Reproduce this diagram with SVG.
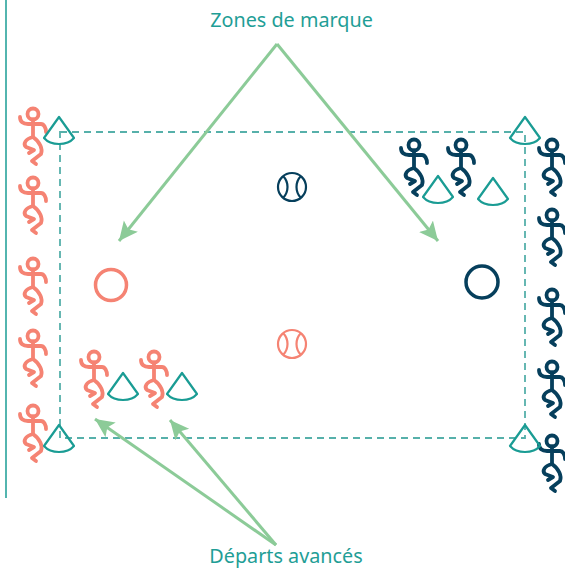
<svg xmlns="http://www.w3.org/2000/svg" xmlns:xlink="http://www.w3.org/1999/xlink" width="565" height="569" viewBox="0 0 565 569">
<style>
text{font-family:"Noto Sans","Open Sans",sans-serif;font-size:19.800px;fill:#1f9e96;text-anchor:middle}
.fig{fill:none;stroke-width:3.800;stroke-linecap:round;stroke-linejoin:round}
.red{stroke:#f58373}
.dark{stroke:#063f5c}
.cone{fill:none;stroke:#1a9c94;stroke-width:2.200;stroke-linejoin:round}
.ball{fill:none;stroke-width:2.200}
.arrow{fill:none;stroke:#8ccb98;stroke-width:3}
</style>
<defs>
<g id="man">
<circle cx="0" cy="0" r="5.500"/>
<path d="M-13,3C-13,8-10,10-5,10H8C11,10 13,14 13,18"/>
<path d="M0,5.500V23C-8,25-10,30-7,33L1,36L-4,39"/>
<path d="M0,23C7,28 10,35 8,40L-1,47L3,50"/>
</g>
<path id="cn" d="M0,0L15,21C8,29-8,29-15,21Z"/>
<g id="bl">
<circle cx="0" cy="0" r="14"/>
<path d="M-9,-11C-3,-5-3,5-9,11M9,-11C3,-5 3,5 9,11"/>
</g>
<marker id="ah" markerUnits="userSpaceOnUse" markerWidth="24" markerHeight="20" refX="19" refY="9" orient="auto"><path d="M0,0L19,9L0,18L4,9Z" fill="#8ccb98"/></marker>
</defs>
<path d="M6,0V498" stroke="#1a9c94" stroke-width="1.500" fill="none"/>
<rect x="60" y="132" width="465" height="306" fill="none" stroke="#56b0aa" stroke-width="1.800" stroke-dasharray="7 5"/>
<g id="connectors">
<path class="arrow" d="M277,44L119,241" marker-end="url(#ah)"/>
<path class="arrow" d="M277,44L438,241" marker-end="url(#ah)"/>
<path class="arrow" d="M276,545L95,419" marker-end="url(#ah)"/>
<path class="arrow" d="M276,545L170,420" marker-end="url(#ah)"/>
</g>
<g id="red-players" class="fig red">
<use xlink:href="#man" x="33" y="114"/><use xlink:href="#man" x="33" y="183"/><use xlink:href="#man" x="33" y="264"/><use xlink:href="#man" x="33" y="336"/><use xlink:href="#man" x="33" y="411"/><use xlink:href="#man" x="94" y="357"/><use xlink:href="#man" x="154" y="357"/>
</g>
<g id="dark-players" class="fig dark">
<use xlink:href="#man" x="414" y="145"/><use xlink:href="#man" x="461" y="145"/><use xlink:href="#man" x="552" y="145"/><use xlink:href="#man" x="552" y="215"/><use xlink:href="#man" x="552" y="295"/><use xlink:href="#man" x="552" y="367"/><use xlink:href="#man" x="552" y="441"/>
</g>
<g id="cones" class="cone">
<use xlink:href="#cn" x="59" y="117"/><use xlink:href="#cn" x="525" y="117"/><use xlink:href="#cn" x="59" y="425"/><use xlink:href="#cn" x="525" y="425"/><use xlink:href="#cn" x="438" y="176"/><use xlink:href="#cn" x="493" y="178"/><use xlink:href="#cn" x="123" y="373"/><use xlink:href="#cn" x="182" y="373"/>
</g>
<g id="target-red"><circle cx="111" cy="285" r="15.500" fill="none" stroke="#f58373" stroke-width="3.500"/></g>
<g id="target-dark"><circle cx="482" cy="282" r="16" fill="none" stroke="#063f5c" stroke-width="3.500"/></g>
<g id="ball-dark" class="ball" stroke="#063f5c"><use xlink:href="#bl" x="292" y="187"/></g>
<g id="ball-red" class="ball" stroke="#f58373"><use xlink:href="#bl" x="292" y="344"/></g>
<g id="label-top"><text x="291.500" y="27">Zones de marque</text></g>
<g id="label-bottom"><text x="286" y="563">Départs avancés</text></g>
</svg>
